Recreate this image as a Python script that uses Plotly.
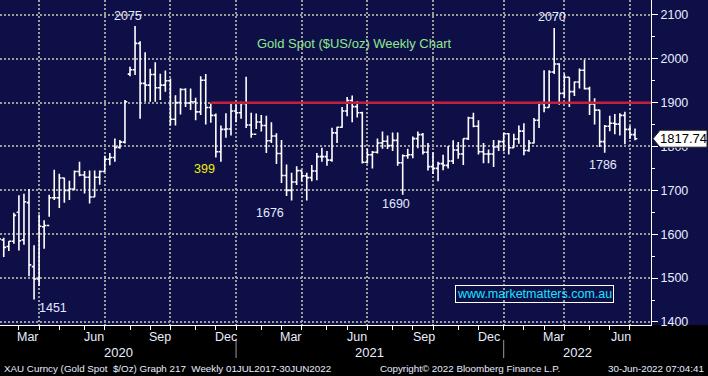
import pandas as pd
import plotly.graph_objects as go

# ---------------- data (weekly OHLC, week ending Friday) ----------------
dates = pd.date_range("2020-01-31", "2022-07-01", freq="W-FRI")

opens = [1571, 1587, 1572, 1584, 1650, 1587, 1672, 1526, 1498, 1617,
         1620, 1683, 1683, 1728, 1700, 1703, 1743, 1735, 1730, 1685,
         1730, 1743, 1771, 1775, 1798, 1810, 1965, 1975, 2035, 1944,
         1940, 1964, 1934, 1940, 1950, 1862, 1900, 1930, 1899, 1902,
         1879, 1951, 1889, 1871, 1788, 1839, 1840, 1881, 1877,
         1898, 1849, 1828, 1856, 1848, 1813, 1824, 1784, 1734, 1700,
         1719, 1745, 1733, 1729, 1744, 1777, 1777, 1769, 1831, 1844,
         1881, 1905, 1891, 1877, 1764, 1781, 1787, 1808, 1812, 1802,
         1814, 1763, 1779, 1781, 1818, 1827, 1787, 1754, 1750, 1761,
         1757, 1767, 1792, 1783, 1818, 1865, 1846, 1788, 1783, 1783,
         1799, 1811,
         1829, 1797, 1817, 1835, 1791, 1808, 1860, 1898, 1889, 1970,
         1988, 1921, 1958, 1925, 1947, 1974, 1932, 1897, 1883, 1811,
         1846, 1853, 1851, 1871, 1839, 1827]
highs = [1589, 1592, 1584, 1649, 1689, 1692, 1703, 1575, 1645, 1632,
         1690, 1747, 1738, 1729, 1722, 1745, 1765, 1744, 1745, 1745,
         1745, 1779, 1785, 1818, 1815, 1906, 1982, 2075, 2040, 2015,
         1977, 1992, 1966, 1973, 1955, 1917, 1933, 1933, 1932, 1911,
         1960, 1965, 1898, 1875, 1848, 1876, 1897, 1896, 1902,
         1959, 1877, 1875, 1872, 1870, 1855, 1830, 1815, 1759, 1740,
         1755, 1746, 1740, 1758, 1785, 1797, 1790, 1843, 1845, 1890,
         1913, 1916, 1903, 1879, 1795, 1790, 1818, 1834, 1825, 1832,
         1832, 1782, 1795, 1823, 1834, 1831, 1808, 1787, 1765, 1781,
         1801, 1814, 1810, 1818, 1868, 1877, 1860, 1808, 1793, 1815,
         1814, 1831,
         1831, 1829, 1848, 1853, 1815, 1865, 1902, 1974, 1974, 2070,
         1990, 1966, 1958, 1948, 1978, 1998, 1936, 1910, 1884, 1849,
         1870, 1874, 1876, 1879, 1847, 1841]
lows = [1563, 1548, 1562, 1578, 1563, 1576, 1504, 1451, 1482, 1567,
        1640, 1678, 1660, 1672, 1678, 1700, 1732, 1693, 1670, 1685,
        1713, 1742, 1757, 1765, 1795, 1807, 1960, 1963, 1863, 1902,
        1902, 1902, 1906, 1925, 1848, 1848, 1873, 1890, 1883, 1860,
        1872, 1850, 1854, 1775, 1765, 1820, 1825, 1855, 1863,
        1842, 1820, 1840, 1834, 1785, 1808, 1760, 1717, 1687, 1677,
        1712, 1720, 1677, 1721, 1723, 1765, 1756, 1765, 1808, 1843,
        1869, 1855, 1866, 1761, 1761, 1750, 1784, 1795, 1794, 1790,
        1756, 1690, 1772, 1773, 1796, 1782, 1745, 1737, 1721, 1746,
        1750, 1760, 1772, 1758, 1815, 1844, 1782, 1762, 1762, 1753,
        1790, 1789,
        1782, 1797, 1806, 1780, 1788, 1807, 1842, 1878, 1889, 1965,
        1895, 1910, 1890, 1915, 1932, 1930, 1872, 1850, 1799, 1786,
        1835, 1828, 1825, 1805, 1817, 1814]
closes = [1589, 1570, 1584, 1643, 1585, 1674, 1530, 1498, 1618, 1620,
          1683, 1683, 1728, 1700, 1703, 1743, 1735, 1730, 1685, 1730,
          1743, 1771, 1775, 1798, 1810, 1902, 1975, 2035, 1944, 1940,
          1964, 1934, 1940, 1950, 1862, 1900, 1930, 1899, 1902, 1879,
          1951, 1889, 1871, 1788, 1839, 1840, 1881, 1877, 1898,
          1849, 1828, 1856, 1848, 1813, 1824, 1784, 1734, 1700, 1719,
          1745, 1733, 1729, 1744, 1777, 1777, 1769, 1831, 1844, 1881,
          1905, 1891, 1877, 1764, 1781, 1787, 1808, 1812, 1802, 1814,
          1763, 1779, 1781, 1818, 1827, 1787, 1754, 1750, 1761, 1757,
          1767, 1792, 1783, 1818, 1865, 1846, 1788, 1783, 1783, 1799,
          1811, 1829,
          1797, 1817, 1835, 1791, 1808, 1860, 1898, 1889, 1970, 1988,
          1921, 1958, 1925, 1947, 1974, 1932, 1897, 1883, 1811, 1846,
          1853, 1851, 1871, 1839, 1827, 1817.74]

assert len(dates) == len(opens) == len(highs) == len(lows) == len(closes)

RESISTANCE = 1900
RESISTANCE_START = "2020-11-20"
month_labels = ["Mar", "Jun", "Sep", "Dec"]
label_months = [(2020, 3), (2020, 6), (2020, 9), (2020, 12),
                (2021, 3), (2021, 6), (2021, 9), (2021, 12),
                (2022, 3), (2022, 6)]
years = ["2020", "2021", "2022"]
peak_labels = [  # text, bar date, which series, colour, xshift, yshift
    ("2075", "2020-08-07", "high", "#e2eaff", -7, 10),
    ("1451", "2020-03-20", "low", "#e2eaff", 19, -8),
    ("399", "2020-12-04", "low", "#f2f000", -16, -7.5),
    ("1676", "2021-03-12", "low", "#e2eaff", -22, -12.5),
    ("1690", "2021-08-13", "low", "#e2eaff", -7, -9),
    ("2070", "2022-03-11", "high", "#e2eaff", -2, 11),
    ("1786", "2022-05-20", "low", "#e2eaff", -2, -12),
]
TITLE = "Gold Spot ($US/oz) Weekly Chart"
WEB = "www.marketmatters.com.au"
FOOT_LEFT = "XAU Curncy (Gold Spot  $/Oz) Graph 217  Weekly 01JUL2017-30JUN2022"
FOOT_MID = "Copyright© 2022 Bloomberg Finance L.P."
FOOT_RIGHT = "30-Jun-2022 07:04:41"

# ---------------- layout constants ----------------
W, H = 708, 376
ML, MR, MT, MB = 0, 57, 0, 51
PW, PH = W - ML - MR, H - MT - MB
Y_MIN, Y_MAX = 1393, 2134
NAVY = "#0f0f48"
GRID = "#9c9c9c"
RED = "#c4203c"
TXT = "#e8eeff"
FONT = "Liberation Sans, Arial, sans-serif"

px_per_day = 5.05 / 7
last = dates[-1]
x_start = last - pd.Timedelta(days=635 / px_per_day)
x_end = last + pd.Timedelta(days=16 / px_per_day)


def ypx(p):
    return (PH - p) / PH


def xpx(p):
    return p / PW


# last bar of each month / quarter
month_ends, quarter_ends, year_ends = [], [], []
for i, d in enumerate(dates[:-1]):
    nd = dates[i + 1]
    if nd.month != d.month:
        month_ends.append(d)
        if d.month in (3, 6, 9, 12):
            quarter_ends.append(d)
        if d.month == 12:
            year_ends.append(d)

fig = go.Figure(go.Ohlc(
    x=dates, open=opens, high=highs, low=lows, close=closes,
    increasing=dict(line=dict(color="#ffffff", width=1.6)),
    decreasing=dict(line=dict(color="#ffffff", width=1.6)),
    tickwidth=0.45, hoverinfo="skip", showlegend=False))

fig.update_layout(
    width=W, height=H, margin=dict(l=ML, r=MR, t=MT, b=MB),
    paper_bgcolor="#000000", plot_bgcolor=NAVY, showlegend=False,
    hovermode=False, font=dict(family=FONT, color=TXT, size=12))

fig.update_xaxes(
    type="date", range=[x_start, x_end], rangeslider_visible=False,
    tickmode="array", tickvals=quarter_ends, showticklabels=False,
    ticks="outside", ticklen=4, tickcolor="#ffffff", tickwidth=1,
    showgrid=True, gridcolor=GRID, gridwidth=1.5, griddash="2px,2px",
    showline=True, linecolor="#ffffff", linewidth=1, zeroline=False,
    minor=dict(tickmode="array", tickvals=month_ends, ticks="outside",
               ticklen=4, tickcolor="#ffffff", showgrid=False))

fig.update_yaxes(
    side="right", range=[Y_MIN, Y_MAX], tickmode="linear", tick0=1400,
    dtick=100, showgrid=True, gridcolor=GRID, gridwidth=1.5,
    griddash="2px,2px", ticks="outside", ticklen=6, tickcolor="#ffffff",
    showline=True, linecolor="#ffffff", linewidth=1, zeroline=False,
    tickfont=dict(size=12.5, color=TXT, family=FONT),
    minor=dict(tick0=1400, dtick=50, ticks="outside", ticklen=3,
               tickcolor="#ffffff", showgrid=False))

shapes = []
# navy background behind right axis
shapes.append(dict(type="rect", xref="paper", yref="paper", x0=1, x1=W / PW,
                   y0=0, y1=1, fillcolor=NAVY, line=dict(width=0),
                   layer="below"))
# resistance line
shapes.append(dict(type="line", xref="x", yref="y", x0=RESISTANCE_START,
                   x1=x_end, y0=RESISTANCE, y1=RESISTANCE,
                   line=dict(color=RED, width=2.5)))
# year separators
for d in year_ends:
    shapes.append(dict(type="line", xref="x", yref="paper", x0=d, x1=d,
                       y0=ypx(340), y1=ypx(358),
                       line=dict(color="#9a9a9a", width=1)))
# last price tag
c = closes[-1]
hh = 8.5 * (Y_MAX - Y_MIN) / PH
tip, body, right = xpx(653), xpx(660), xpx(707)
shapes.append(dict(type="path", xref="paper", yref="y",
                   path=f"M {tip},{c} L {body},{c + hh} L {right},{c + hh} "
                        f"L {right},{c - hh} L {body},{c - hh} Z",
                   fillcolor="#ffffff", line=dict(color="#202020", width=1)))
fig.update_layout(shapes=shapes)

ann = []
ann.append(dict(xref="paper", yref="y", x=xpx(684), y=c, text=f"{c:.2f}",
                showarrow=False, font=dict(size=13, color="#000000",
                                           family=FONT),
                xanchor="center", yanchor="middle"))
# month labels
for (yr, mo) in label_months:
    ann.append(dict(xref="x", yref="paper", x=pd.Timestamp(yr, mo, 11),
                    y=ypx(337), text=month_labels[(mo // 3) - 1],
                    showarrow=False, font=dict(size=12.5, color=TXT),
                    xanchor="center", yanchor="middle"))
# year labels
bounds = [x_start] + year_ends + [x_end]
for i, yl in enumerate(years):
    a, b = bounds[i], bounds[i + 1]
    ann.append(dict(xref="x", yref="paper", x=a + (b - a) / 2, y=ypx(352),
                    text=yl, showarrow=False, font=dict(size=13, color=TXT),
                    xanchor="center", yanchor="middle"))
# peak / trough labels
for text, d, which, col, xs, ys in peak_labels:
    i = dates.get_loc(pd.Timestamp(d))
    val = highs[i] if which == "high" else lows[i]
    ann.append(dict(xref="x", yref="y", x=dates[i], y=val, text=text,
                    showarrow=False, font=dict(size=12.5, color=col),
                    xanchor="center", yanchor="middle", xshift=xs, yshift=ys))
# title
ann.append(dict(xref="paper", yref="paper", x=xpx(354), y=ypx(43),
                text=TITLE, showarrow=False,
                font=dict(size=13, color="#8fe88f"),
                xanchor="center", yanchor="middle"))
# website box
ann.append(dict(xref="paper", yref="paper", x=xpx(534), y=ypx(294),
                text=WEB, showarrow=False,
                font=dict(size=12.5, color="#19e3ff"),
                bordercolor="#ffffff", borderwidth=1, borderpad=1,
                xanchor="center", yanchor="middle"))
# footer
ann.append(dict(xref="paper", yref="paper", x=xpx(2), y=ypx(368),
                text=FOOT_LEFT, showarrow=False,
                font=dict(size=9.8, color=TXT), xanchor="left",
                yanchor="middle"))
ann.append(dict(xref="paper", yref="paper", x=xpx(378), y=ypx(368),
                text=FOOT_MID, showarrow=False,
                font=dict(size=9.8, color=TXT), xanchor="left",
                yanchor="middle"))
ann.append(dict(xref="paper", yref="paper", x=xpx(706), y=ypx(368),
                text=FOOT_RIGHT, showarrow=False,
                font=dict(size=9.8, color=TXT), xanchor="right",
                yanchor="middle"))
fig.update_layout(annotations=ann)

fig.write_html("out.html", config={"displayModeBar": False},
               post_script="document.body.style.margin='0px';"
                           "document.body.style.overflow='hidden';")
